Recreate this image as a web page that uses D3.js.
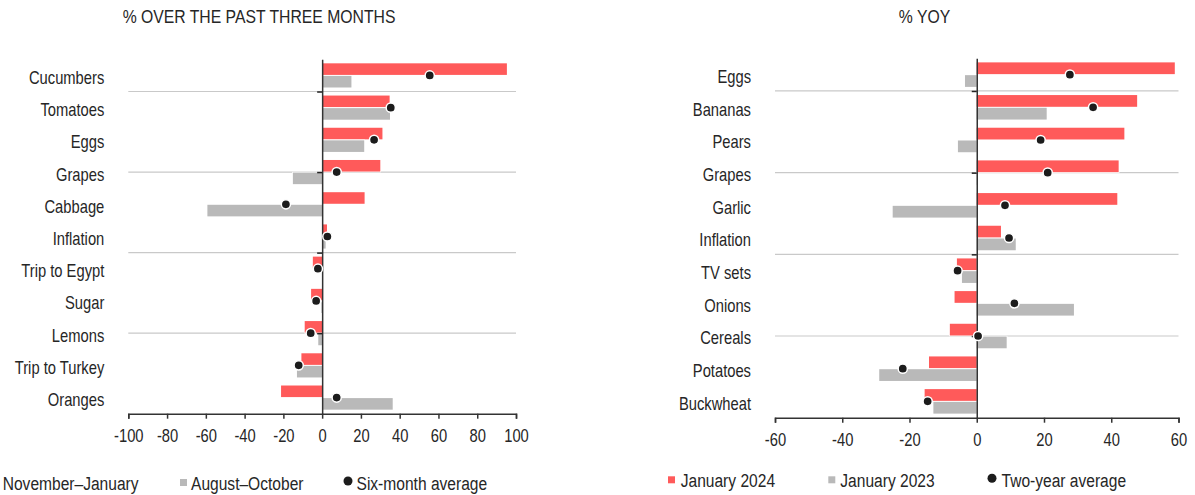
<!DOCTYPE html>
<html>
<head>
<meta charset="utf-8">
<script src="https://cdn.jsdelivr.net/npm/d3@7"></script>
<style>
  html, body { margin: 0; padding: 0; background: #fff; }
  svg { display: block; font-family: "Liberation Sans", Arial, sans-serif; }
  .label { fill: #262626; font-size: 18px; }
  .title { fill: #262626; font-size: 19px; }
  .tick text { fill: #262626; font-size: 18px; }
  .legend text { fill: #262626; font-size: 19px; }
</style>
</head>
<body>
<svg id="chart" width="1195" height="495"></svg>
<script>
// left panel: % over the past three months
const leftCategories = ["Cucumbers", "Tomatoes", "Eggs", "Grapes", "Cabbage", "Inflation",
  "Trip to Egypt", "Sugar", "Lemons", "Trip to Turkey", "Oranges"];
const novJan = [95.3, 34.8, 31.1, 30, 21.9, 2.5, -4.8, -5.7, -9, -10.7, -21.2];
const augOct = [15.1, 35, 21.7, -15.1, -59.2, 1.8, 0.3, -0.4, -2, -13, 36.4];
const sixMonthAvg = [55.5, 35.4, 26.8, 7.5, -18.7, 2.7, -2.2, -3.1, -5.9, -12.1, 7.5];
const leftTicks = [-100, -80, -60, -40, -20, 0, 20, 40, 60, 80, 100];

// right panel: % YoY
const rightCategories = ["Eggs", "Bananas", "Pears", "Grapes", "Garlic", "Inflation",
  "TV sets", "Onions", "Cereals", "Potatoes", "Buckwheat"];
const jan2024 = [58.9, 47.7, 43.9, 42.2, 41.8, 7.2, -5.9, -6.6, -8, -14.2, -15.5];
const jan2023 = [-3.5, 20.8, -5.6, 0.2, -25, 11.6, -4.4, 28.9, 8.9, -29, -12.9];
const twoYearAvg = [27.7, 34.6, 19, 21.1, 8.4, 9.6, -5.7, 11.2, 0.4, -22, -14.6];
const rightTicks = [-60, -40, -20, 0, 20, 40, 60];

const RED = "#ff5a5a";
const GREY = "#b9b9b9";
const DOT = "#1c1c1c";
const NARROW = 0.82; // the original face is a narrow one, squeeze Liberation Sans

const svg = d3.select("#chart");

function drawPanel(p) {
  const g = svg.append("g");

  const x = d3.scaleLinear().domain(p.domain).range([p.left, p.right]);
  const y = d3.scaleBand().domain(p.cats).range([p.top, p.bottom])
    .paddingInner(0.25).paddingOuter(0.125);
  const sub = d3.scaleBand().domain(["a", "b"]).range([0, y.bandwidth()]).paddingInner(0.08);
  // scatter y axis underneath: 0..n, gridlines every 2.5
  const yv = d3.scaleLinear().domain([0, p.cats.length]).range([p.bottom, p.top]);
  const gridVals = [2.5, 5, 7.5, 10];

  // gridlines
  g.append("g").selectAll("line")
    .data(gridVals)
    .join("line")
    .attr("x1", p.left).attr("x2", p.right)
    .attr("y1", d => yv(d)).attr("y2", d => yv(d))
    .attr("stroke", "#c9c9c9").attr("stroke-width", 1.2);

  const rows = p.cats.map((c, i) => ({ c, a: p.a[i], b: p.b[i], avg: p.avg[i] }));

  // bars
  g.append("g").selectAll("rect")
    .data(rows)
    .join("rect")
    .attr("x", d => x(Math.min(0, d.a)))
    .attr("y", d => y(d.c) + sub("a"))
    .attr("width", d => Math.abs(x(d.a) - x(0)))
    .attr("height", sub.bandwidth())
    .attr("fill", RED).attr("stroke", "#fff").attr("stroke-width", 1.5)
    .attr("paint-order", "stroke");

  g.append("g").selectAll("rect")
    .data(rows)
    .join("rect")
    .attr("x", d => x(Math.min(0, d.b)))
    .attr("y", d => y(d.c) + sub("b"))
    .attr("width", d => Math.abs(x(d.b) - x(0)))
    .attr("height", sub.bandwidth())
    .attr("fill", GREY).attr("stroke", "#fff").attr("stroke-width", 1.5)
    .attr("paint-order", "stroke");

  // zero line with little ticks at the gridlines
  const zeroAxis = g.append("g")
    .attr("transform", `translate(${x(0)},0)`)
    .call(d3.axisLeft(yv).tickValues(gridVals).tickSize(5).tickSizeOuter(0).tickFormat(""));
  zeroAxis.select(".domain").attr("stroke", "#333").attr("stroke-width", 1.5);
  zeroAxis.selectAll(".tick line").attr("stroke", "#222").attr("stroke-width", 1.5);

  // x axis
  const xAxis = g.append("g")
    .attr("transform", `translate(0,${p.bottom})`)
    .call(d3.axisBottom(x).tickValues(p.ticks).tickSize(5).tickSizeOuter(5).tickPadding(11)
      .tickFormat(d => String(d)));
  xAxis.attr("font-family", null).attr("font-size", null);
  xAxis.select(".domain").attr("stroke", "#333").attr("stroke-width", 1.5);
  xAxis.selectAll(".tick line").attr("stroke", "#333").attr("stroke-width", 1.5);
  xAxis.selectAll(".tick text").attr("transform", `scale(${NARROW},1)`);

  // category labels
  g.append("g").selectAll("text")
    .data(rows)
    .join("text")
    .attr("class", "label")
    .attr("transform", d => `translate(${p.left - 24},${y(d.c) + y.bandwidth() / 2}) scale(${NARROW},1)`)
    .attr("dy", "0.47em")
    .attr("text-anchor", "end")
    .text(d => d.c);

  // averages
  g.append("g").selectAll("circle")
    .data(rows)
    .join("circle")
    .attr("cx", d => x(d.avg))
    .attr("cy", d => y(d.c) + y.bandwidth() / 2)
    .attr("r", 4.6)
    .attr("fill", DOT).attr("stroke", "#fff").attr("stroke-width", 1.5);

  // title
  svg.append("text")
    .attr("class", "title")
    .attr("transform", `translate(${p.titleX},23) scale(0.83,1)`)
    .attr("text-anchor", "middle")
    .text(p.title);

  // legend
  const lg = svg.append("g").attr("class", "legend");
  const items = [
    { name: p.names[0], color: RED, type: "sq" },
    { name: p.names[1], color: GREY, type: "sq" },
    { name: p.names[2], color: DOT, type: "dot" }
  ];
  items.forEach((it, i) => {
    const mx = p.legendX[i];
    if (it.type === "sq") {
      lg.append("rect").attr("x", mx).attr("y", p.legendY - 11).attr("width", 7).attr("height", 7)
        .attr("fill", it.color);
    } else {
      lg.append("circle").attr("cx", mx + 4).attr("cy", p.legendY - 9).attr("r", 4.5).attr("fill", it.color);
    }
    lg.append("text")
      .attr("transform", `translate(${mx + p.legendGap[i]},${p.legendY}) scale(${NARROW},1)`)
      .text(it.name);
  });
}

drawPanel({
  cats: leftCategories, a: novJan, b: augOct, avg: sixMonthAvg,
  domain: [-100, 100], ticks: leftTicks,
  left: 128.3, right: 516, top: 59.3, bottom: 413.7,
  title: "% OVER THE PAST THREE MONTHS", titleX: 259,
  names: ["November\u2013January", "August\u2013October", "Six-month average"],
  legendX: [-10, 180, 344], legendGap: [12.7, 11, 12.5], legendY: 490
});

drawPanel({
  cats: rightCategories, a: jan2024, b: jan2023, avg: twoYearAvg,
  domain: [-60, 60], ticks: rightTicks,
  left: 775, right: 1178.5, top: 58.3, bottom: 417.7,
  title: "% YOY", titleX: 924.5,
  names: ["January 2024", "January 2023", "Two-year average"],
  legendX: [668, 828.3, 988], legendGap: [12.7, 12, 13.5], legendY: 487.3
});
</script>
</body>
</html>
